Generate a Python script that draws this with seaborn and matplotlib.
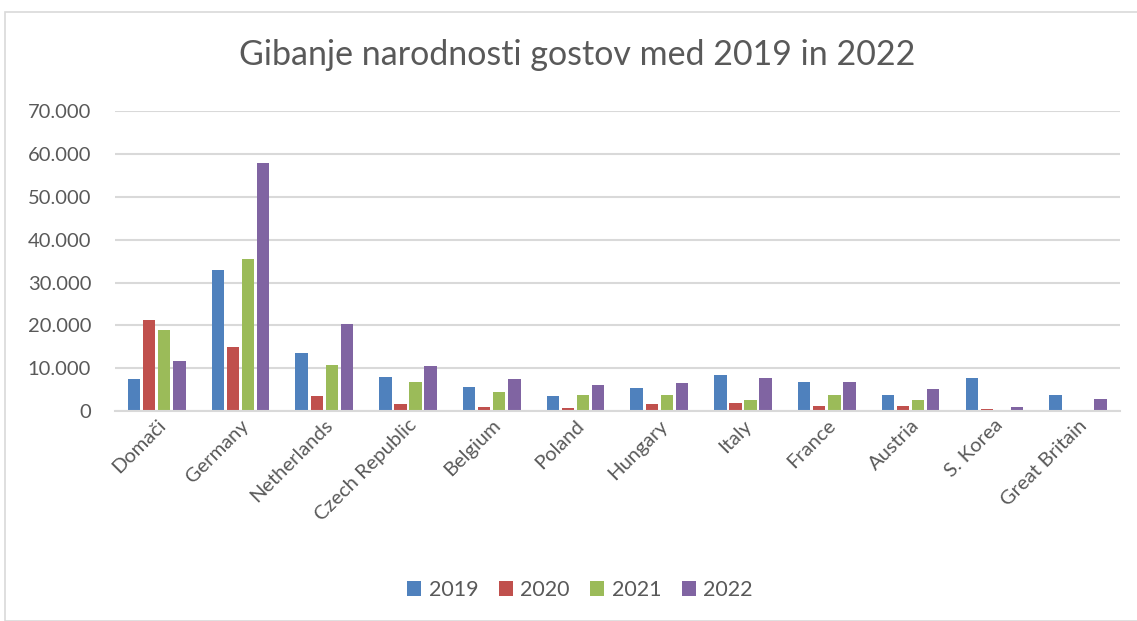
import seaborn as sns
import numpy as np
import pandas as pd
import matplotlib.pyplot as plt
from matplotlib.ticker import FuncFormatter
from matplotlib.patches import Rectangle

countries = ["Domači", "Germany", "Netherlands", "Czech Republic", "Belgium", "Poland",
             "Hungary", "Italy", "France", "Austria", "S. Korea", "Great Britain"]
years = ["2019", "2020", "2021", "2022"]
guests_2019 = [7500, 32900, 13650, 7870, 5670, 3460, 5280, 8500, 6770, 3860, 7640, 3780]
guests_2020 = [21350, 14950, 3590, 1640, 950, 790, 1730, 1970, 1260, 1260, 550, 310]
guests_2021 = [18950, 35600, 10700, 6700, 4570, 3780, 3780, 2680, 3780, 2600, 0, 310]
guests_2022 = [11780, 57850, 20350, 10600, 7400, 5980, 6460, 7800, 6850, 5200, 870, 2910]
colors = ["#4F81BD", "#C0504D", "#9BBB59", "#8064A2"]

df = pd.DataFrame({"country": countries, "2019": guests_2019, "2020": guests_2020,
                   "2021": guests_2021, "2022": guests_2022})
long = df.melt(id_vars="country", var_name="year", value_name="guests")

sns.set_style("white")
plt.rcParams["font.family"] = ["Lato", "DejaVu Sans"]

fig = plt.figure(figsize=(11.37, 6.21), dpi=100)
ax = fig.add_axes([0.101, 0.338, 0.884, 0.483])

sns.barplot(data=long, x="country", y="guests", hue="year", hue_order=years,
            palette=colors, width=0.72, gap=0.18, ax=ax, saturation=1,
            linewidth=0, legend=True)

ax.set_ylim(0, 70000)
ax.set_xlim(-0.5, 11.5)
ax.set_yticks(range(0, 70001, 10000))
ax.yaxis.set_major_formatter(FuncFormatter(lambda v, p: "0" if v == 0 else f"{int(v):,}".replace(",", ".")))
ax.grid(axis="y", color="#D9D9D9", linewidth=1.5)
ax.set_axisbelow(True)
for s in ["top", "right", "left"]:
    ax.spines[s].set_visible(False)
ax.spines["bottom"].set_color("#D9D9D9")
ax.spines["bottom"].set_linewidth(1.5)
ax.set_xlabel("")
ax.set_ylabel("")
ax.tick_params(axis="y", labelsize=14.5, labelcolor="#595959", length=0, pad=17)
ax.tick_params(axis="x", labelsize=14.5, labelcolor="#595959", length=0, pad=4)
plt.setp(ax.get_xticklabels(), rotation=45, ha="right", rotation_mode="anchor")

ax.legend_.remove()
handles, labels = ax.get_legend_handles_labels()
fig.legend(handles[:4], years, loc="center", bbox_to_anchor=(0.51, 0.05), ncol=4,
           frameon=False, fontsize=15.5, labelcolor="#595959", handlelength=0.65,
           handleheight=0.65, handletextpad=0.35, columnspacing=0.95)

fig.text(0.508, 0.911, "Gibanje narodnosti gostov med 2019 in 2022", ha="center", va="center",
         fontsize=24.5, color="#595959")

fig.patches.append(Rectangle((0.004, 0.0), 1.0, 0.98, transform=fig.transFigure,
                             fill=False, edgecolor="#D9D9D9", linewidth=1.2))

fig.savefig("out.png", dpi=100)
